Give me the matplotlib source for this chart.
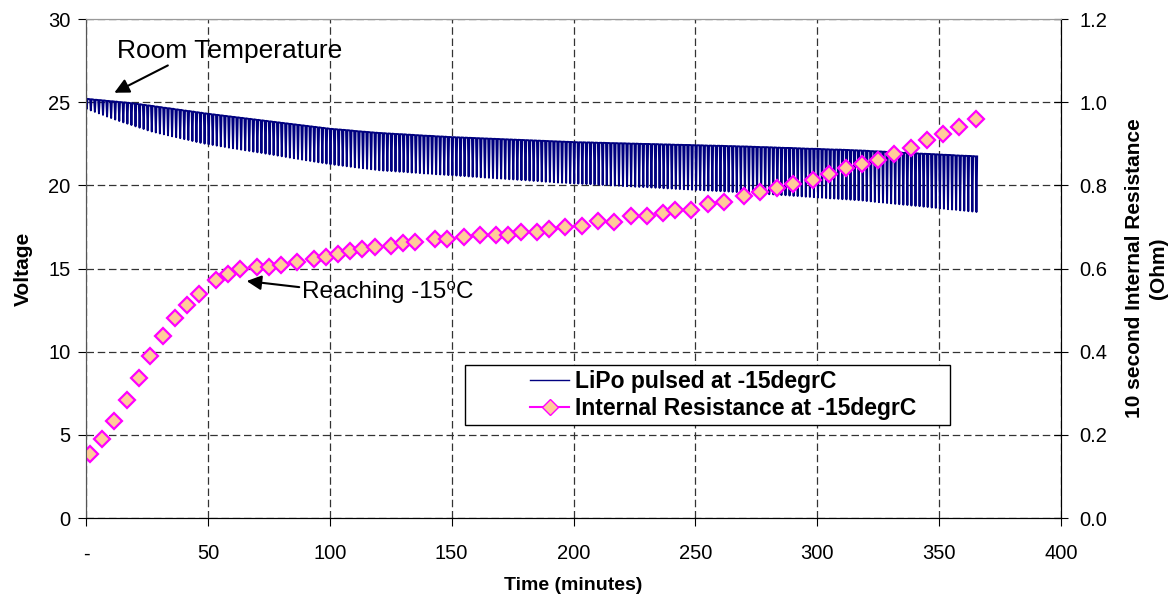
import numpy as np
import matplotlib.pyplot as plt
from matplotlib.lines import Line2D
from matplotlib.patches import Rectangle

plt.rcParams['font.family'] = ['Liberation Sans', 'DejaVu Sans']

# pulse times (minutes) - one pulse every 100 s
pulse_t = np.arange(220) * 5 / 3

# rest voltage (top of each pulse)
rest_v = [25.20, 25.18, 25.15, 25.13, 25.11, 25.08, 25.06, 25.04, 25.01, 24.99,
          24.97, 24.94, 24.91, 24.88, 24.84, 24.81, 24.78, 24.74, 24.71, 24.67,
          24.64, 24.61, 24.57, 24.54, 24.50, 24.47, 24.44, 24.40, 24.37, 24.33,
          24.30, 24.27, 24.24, 24.21, 24.18, 24.15, 24.12, 24.09, 24.06, 24.03,
          24.00, 23.97, 23.94, 23.91, 23.88, 23.85, 23.82, 23.79, 23.76, 23.73,
          23.70, 23.67, 23.64, 23.61, 23.58, 23.55, 23.52, 23.49, 23.46, 23.43,
          23.40, 23.38, 23.36, 23.34, 23.32, 23.30, 23.27, 23.25, 23.23, 23.21,
          23.19, 23.17, 23.15, 23.14, 23.12, 23.11, 23.09, 23.08, 23.07, 23.05,
          23.04, 23.02, 23.01, 22.99, 22.98, 22.97, 22.95, 22.94, 22.93, 22.91,
          22.90, 22.89, 22.88, 22.87, 22.86, 22.85, 22.84, 22.83, 22.82, 22.81,
          22.80, 22.79, 22.78, 22.77, 22.76, 22.75, 22.74, 22.73, 22.72, 22.71,
          22.70, 22.69, 22.68, 22.67, 22.66, 22.65, 22.64, 22.63, 22.62, 22.61,
          22.60, 22.59, 22.59, 22.58, 22.58, 22.57, 22.56, 22.56, 22.55, 22.54,
          22.54, 22.53, 22.53, 22.52, 22.51, 22.51, 22.50, 22.49, 22.49, 22.48,
          22.48, 22.47, 22.46, 22.46, 22.45, 22.44, 22.44, 22.43, 22.43, 22.42,
          22.41, 22.41, 22.40, 22.39, 22.39, 22.38, 22.38, 22.37, 22.36, 22.36,
          22.35, 22.34, 22.34, 22.33, 22.32, 22.31, 22.30, 22.30, 22.29, 22.28,
          22.27, 22.26, 22.25, 22.25, 22.24, 22.23, 22.22, 22.21, 22.20, 22.20,
          22.19, 22.18, 22.17, 22.16, 22.15, 22.15, 22.14, 22.13, 22.12, 22.11,
          22.10, 22.09, 22.08, 22.06, 22.05, 22.04, 22.03, 22.01, 22.00, 21.99,
          21.98, 21.96, 21.95, 21.94, 21.93, 21.91, 21.90, 21.89, 21.88, 21.87,
          21.85, 21.84, 21.83, 21.82, 21.80, 21.79, 21.78, 21.77, 21.76, 21.74]

# loaded voltage (bottom of each pulse)
load_v = [24.60, 24.51, 24.42, 24.33, 24.24, 24.14, 24.05, 23.96, 23.87, 23.79,
          23.71, 23.63, 23.55, 23.47, 23.39, 23.31, 23.24, 23.18, 23.12, 23.07,
          23.01, 22.95, 22.90, 22.84, 22.78, 22.73, 22.67, 22.61, 22.56, 22.51,
          22.47, 22.43, 22.39, 22.35, 22.31, 22.27, 22.23, 22.19, 22.15, 22.11,
          22.07, 22.03, 21.99, 21.95, 21.91, 21.87, 21.83, 21.79, 21.75, 21.71,
          21.67, 21.63, 21.59, 21.55, 21.51, 21.47, 21.43, 21.39, 21.35, 21.31,
          21.27, 21.24, 21.21, 21.18, 21.15, 21.12, 21.09, 21.06, 21.03, 21.00,
          20.97, 20.94, 20.91, 20.89, 20.87, 20.86, 20.84, 20.82, 20.81, 20.79,
          20.77, 20.76, 20.74, 20.72, 20.71, 20.69, 20.67, 20.66, 20.64, 20.62,
          20.61, 20.59, 20.57, 20.56, 20.54, 20.52, 20.51, 20.49, 20.47, 20.46,
          20.44, 20.42, 20.41, 20.39, 20.37, 20.36, 20.34, 20.32, 20.31, 20.29,
          20.27, 20.26, 20.24, 20.22, 20.21, 20.19, 20.17, 20.16, 20.15, 20.13,
          20.12, 20.11, 20.09, 20.08, 20.07, 20.05, 20.04, 20.03, 20.02, 20.00,
          19.99, 19.98, 19.96, 19.95, 19.94, 19.92, 19.91, 19.90, 19.89, 19.87,
          19.86, 19.85, 19.83, 19.82, 19.81, 19.79, 19.78, 19.77, 19.76, 19.74,
          19.73, 19.72, 19.70, 19.69, 19.68, 19.66, 19.65, 19.64, 19.63, 19.61,
          19.60, 19.59, 19.57, 19.56, 19.54, 19.52, 19.51, 19.49, 19.47, 19.46,
          19.44, 19.42, 19.41, 19.39, 19.37, 19.36, 19.34, 19.32, 19.31, 19.29,
          19.27, 19.26, 19.24, 19.22, 19.21, 19.19, 19.17, 19.16, 19.14, 19.12,
          19.11, 19.09, 19.06, 19.04, 19.01, 18.99, 18.97, 18.94, 18.92, 18.89,
          18.87, 18.84, 18.82, 18.79, 18.77, 18.75, 18.72, 18.70, 18.67, 18.65,
          18.62, 18.60, 18.57, 18.55, 18.53, 18.50, 18.48, 18.45, 18.43, 18.40]

# internal resistance readings
res_t = [1.6, 6.4, 11.5, 16.7, 21.6, 26.4, 31.7, 36.5, 41.4, 46.5,
         53.2, 58.3, 63.3, 70.2, 74.9, 80.0, 86.7, 93.4, 98.3, 103.2,
         108.3, 113.2, 118.4, 125.0, 129.9, 135.1, 143.3, 148.2, 155.2, 161.8,
         168.2, 173.3, 178.5, 184.9, 190.1, 196.5, 203.4, 210.2, 216.6, 223.5,
         230.0, 236.7, 241.6, 248.3, 255.2, 261.7, 269.9, 276.5, 283.3, 289.9,
         298.4, 304.9, 311.7, 318.4, 325.0, 331.6, 338.3, 345.0, 351.7, 358.3, 365.1]
res_ohm = [0.153, 0.191, 0.234, 0.284, 0.338, 0.390, 0.438, 0.481, 0.513, 0.540,
           0.572, 0.588, 0.599, 0.604, 0.604, 0.608, 0.615, 0.624, 0.628, 0.635,
           0.642, 0.647, 0.651, 0.655, 0.661, 0.665, 0.670, 0.670, 0.675, 0.681,
           0.681, 0.681, 0.689, 0.689, 0.695, 0.700, 0.703, 0.714, 0.713, 0.727,
           0.727, 0.733, 0.741, 0.742, 0.756, 0.761, 0.775, 0.784, 0.794, 0.803,
           0.813, 0.827, 0.842, 0.851, 0.861, 0.875, 0.889, 0.908, 0.923, 0.941, 0.960]

# build the pulsed trace: rest -> loaded -> rest for every pulse
w = 0.3
xs, ys = [], []
for t, up, lo in zip(pulse_t, rest_v, load_v):
    xs += [t, t + w, t + 2 * w]
    ys += [up, lo, up]

fig = plt.figure(figsize=(11.72, 6.01), dpi=100)
ax = fig.add_axes([0.0734, 0.138, 0.8319, 0.8303])
ax2 = ax.twinx()

ax.plot(xs, ys, color='#000080', lw=1.4)
ax2.plot(res_t, res_ohm, linestyle='none', marker='D', markersize=7.8,
         markerfacecolor='#FFCC99', markeredgecolor='#FF00FF', markeredgewidth=1.6)

ax.set_xlim(0, 400)
ax.set_ylim(0, 30)
ax2.set_ylim(0, 1.2)

ax.set_xticks(np.arange(0, 401, 50))
ax.set_xticklabels(['-'] + [str(v) for v in range(50, 401, 50)])
ax.set_yticks(np.arange(0, 31, 5))
ax2.set_yticks(np.arange(0, 1.21, 0.2))
ax2.set_yticklabels(['%.1f' % v for v in np.arange(0, 1.21, 0.2)])

ax.grid(True, color='#333333', linestyle=(0, (6, 3)), lw=0.9)
ax.set_axisbelow(True)

ax.tick_params(axis='x', direction='out', length=6, pad=13, labelsize=14.5)
ax.tick_params(axis='y', direction='out', length=6, pad=5, labelsize=14.5)
ax2.tick_params(axis='y', direction='inout', length=10, pad=8, labelsize=14.5)

for a in (ax, ax2):
    a.spines['top'].set_color('#999999')
    a.spines['left'].set_color('#555555')
    a.spines['bottom'].set_color('black')
    a.spines['right'].set_color('black')

ax.set_xlabel('Time (minutes)', fontsize=14, fontweight='bold', labelpad=10)
ax.set_ylabel('Voltage', fontsize=15, fontweight='bold', labelpad=11)
ax2.set_ylabel('10 second Internal Resistance\n(Ohm)', fontsize=15,
               fontweight='bold', labelpad=13, linespacing=1.3)

ax2.annotate('Room Temperature', xy=(11.6, 25.57 / 25), xytext=(12.7, 28.1 / 25),
             fontsize=19, va='center', ha='left',
             arrowprops=dict(arrowstyle='-|>', color='black', lw=1.5,
                             mutation_scale=22, shrinkA=0, shrinkB=0,
                             relpos=(0.25, 0)))
ax2.annotate('Reaching -15\u2070C', xy=(65.9, 14.25 / 25), xytext=(88.6, 13.6 / 25),
             fontsize=17.5, va='center', ha='left',
             arrowprops=dict(arrowstyle='-|>', color='black', lw=1.5,
                             mutation_scale=22, shrinkA=0, shrinkB=0,
                             relpos=(0, 0.7)))

# legend frame (wider than its content, as in the original)
ax2.add_patch(Rectangle((0.3887, 0.1864), 0.4975, 0.1202, transform=ax2.transAxes,
                        facecolor='white', edgecolor='black', lw=1.0, zorder=4))

handles = [Line2D([], [], color='#000080', lw=1),
           Line2D([], [], color='#FF00FF', lw=1.5, marker='D', markersize=7.8,
                  markerfacecolor='#FFCC99', markeredgecolor='#FF00FF')]
leg = ax2.legend(handles, ['LiPo pulsed at -15degrC', 'Internal Resistance at -15degrC'],
                 loc='center left', bbox_to_anchor=(0.4554, 0.2465), frameon=False,
                 prop={'weight': 'bold', 'size': 16.5},
                 borderpad=0, labelspacing=0.2, handlelength=1.7, handletextpad=0.28,
                 borderaxespad=0)
leg.set_zorder(5)

fig.savefig('out.png', dpi=100)
